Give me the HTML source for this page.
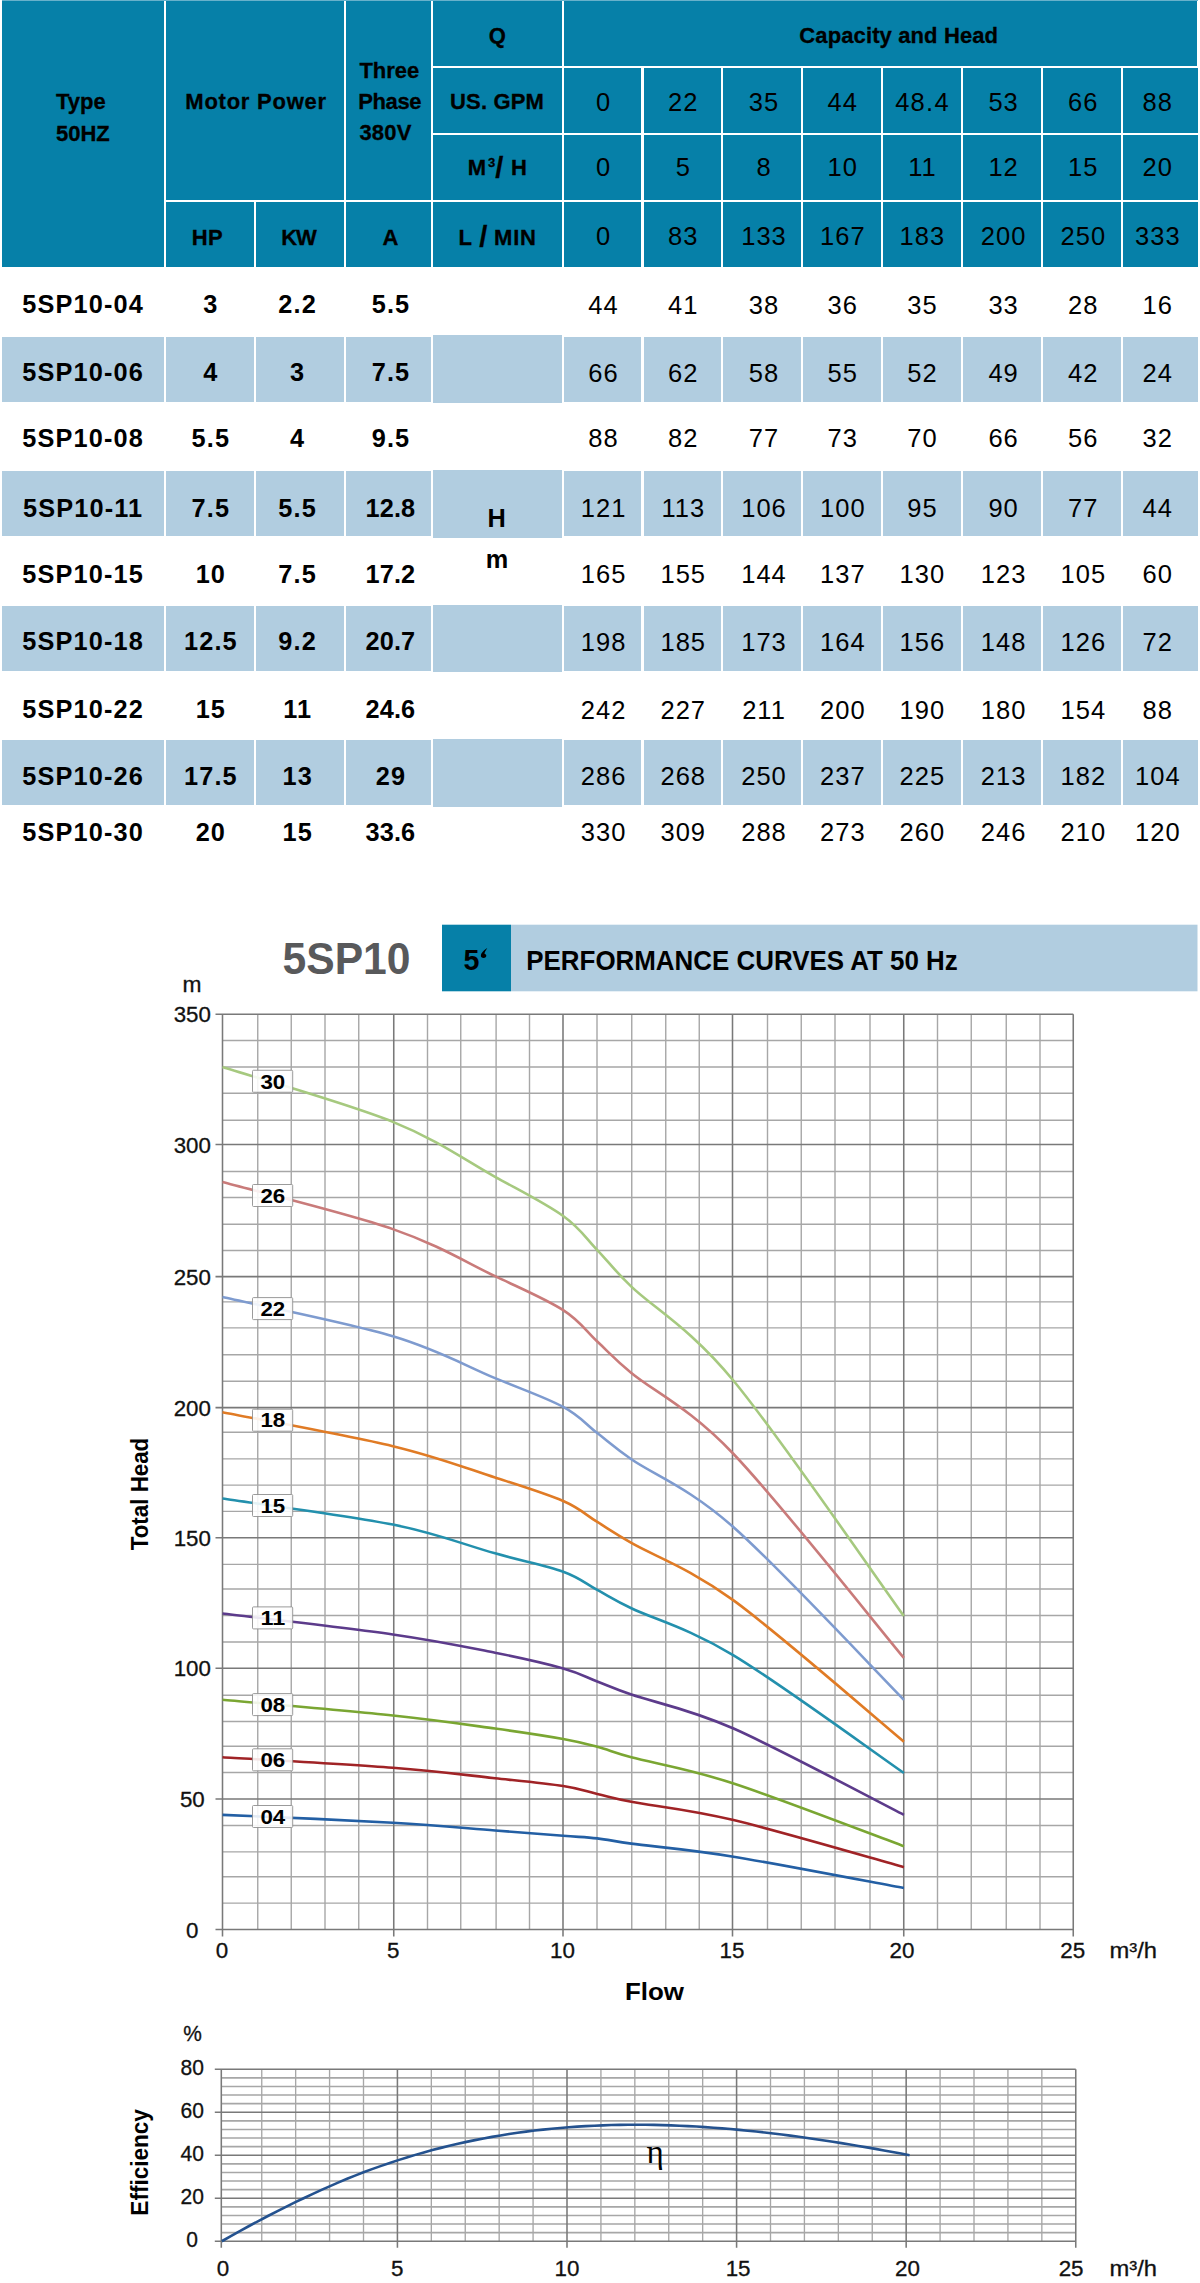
<!DOCTYPE html>
<html><head><meta charset="utf-8"><title>5SP10 performance</title>
<style>
html,body{margin:0;padding:0;background:#fff;}
body{width:1200px;height:2283px;position:relative;overflow:hidden;font-family:"Liberation Sans",sans-serif;color:#000;}
.b{position:absolute;}
.h{background:#0680a8;}
.l{background:#b1cde0;}
.t{position:absolute;width:400px;height:30px;line-height:30px;white-space:nowrap;text-align:center;}
.tl{text-align:left;}
.tr{text-align:right;}
.hb{font-weight:bold;font-size:22px;-webkit-text-stroke:0.3px #000;}
.hn{font-size:25.5px;}
.bb{font-weight:bold;font-size:25.3px;}
.bn{font-size:25.5px;}
svg{position:absolute;left:0;top:0;}
svg text{font-family:"Liberation Sans",sans-serif;}
</style></head><body>

<div class="b h" style="left:2px;top:0px;width:162px;height:267.1px"></div>
<div class="b h" style="left:166px;top:0px;width:178px;height:200.3px"></div>
<div class="b h" style="left:166px;top:202.2px;width:88px;height:64.9px"></div>
<div class="b h" style="left:256px;top:202.2px;width:88px;height:64.9px"></div>
<div class="b h" style="left:346px;top:0px;width:85px;height:200.3px"></div>
<div class="b h" style="left:346px;top:202.2px;width:85px;height:64.9px"></div>
<div class="b h" style="left:433px;top:0px;width:128.6px;height:65.7px"></div>
<div class="b h" style="left:433px;top:67.6px;width:128.6px;height:65.3px"></div>
<div class="b h" style="left:433px;top:134.9px;width:128.6px;height:65.4px"></div>
<div class="b h" style="left:433px;top:202.2px;width:128.6px;height:64.9px"></div>
<div class="b h" style="left:563.7px;top:0px;width:633.8px;height:65.7px"></div>
<div class="b h" style="left:563.7px;top:67.6px;width:77.7px;height:65.3px"></div>
<div class="b h" style="left:643.6px;top:67.6px;width:77.7px;height:65.3px"></div>
<div class="b h" style="left:723.4px;top:67.6px;width:78px;height:65.3px"></div>
<div class="b h" style="left:803.4px;top:67.6px;width:77.6px;height:65.3px"></div>
<div class="b h" style="left:883px;top:67.6px;width:78px;height:65.3px"></div>
<div class="b h" style="left:963px;top:67.6px;width:78px;height:65.3px"></div>
<div class="b h" style="left:1043px;top:67.6px;width:78px;height:65.3px"></div>
<div class="b h" style="left:1123px;top:67.6px;width:74.5px;height:65.3px"></div>
<div class="b h" style="left:563.7px;top:134.9px;width:77.7px;height:65.4px"></div>
<div class="b h" style="left:643.6px;top:134.9px;width:77.7px;height:65.4px"></div>
<div class="b h" style="left:723.4px;top:134.9px;width:78px;height:65.4px"></div>
<div class="b h" style="left:803.4px;top:134.9px;width:77.6px;height:65.4px"></div>
<div class="b h" style="left:883px;top:134.9px;width:78px;height:65.4px"></div>
<div class="b h" style="left:963px;top:134.9px;width:78px;height:65.4px"></div>
<div class="b h" style="left:1043px;top:134.9px;width:78px;height:65.4px"></div>
<div class="b h" style="left:1123px;top:134.9px;width:74.5px;height:65.4px"></div>
<div class="b h" style="left:563.7px;top:202.2px;width:77.7px;height:64.9px"></div>
<div class="b h" style="left:643.6px;top:202.2px;width:77.7px;height:64.9px"></div>
<div class="b h" style="left:723.4px;top:202.2px;width:78px;height:64.9px"></div>
<div class="b h" style="left:803.4px;top:202.2px;width:77.6px;height:64.9px"></div>
<div class="b h" style="left:883px;top:202.2px;width:78px;height:64.9px"></div>
<div class="b h" style="left:963px;top:202.2px;width:78px;height:64.9px"></div>
<div class="b h" style="left:1043px;top:202.2px;width:78px;height:64.9px"></div>
<div class="b h" style="left:1123px;top:202.2px;width:74.5px;height:64.9px"></div>
<div class="b" style="left:2px;top:0;width:1195.5px;height:1px;background:#68b1cb"></div>
<div class="t hb tl" style="top:87.37px;left:56.00px;">Type</div>
<div class="t hb tl" style="top:118.57px;left:56.00px;">50HZ</div>
<div class="t hb" style="top:87.37px;left:56.07px;letter-spacing:0.75px;">Motor Power</div>
<div class="t hb tl" style="top:55.77px;left:359.40px;">Three</div>
<div class="t hb tl" style="top:86.77px;left:358.20px;letter-spacing:-0.35px;">Phase</div>
<div class="t hb tl" style="top:117.97px;left:359.40px;letter-spacing:0.20px;">380V</div>
<div class="t hb" style="top:20.77px;left:297.30px;">Q</div>
<div class="t hb" style="top:87.37px;left:297.07px;letter-spacing:0.15px;">US. GPM</div>
<div class="t hb" style="top:153.27px;left:298.30px;letter-spacing:1.80px;">M<span style="font-size:13px;position:relative;top:-8px;letter-spacing:0">3</span><span style="font-size:29px;position:relative;top:2.5px;letter-spacing:0;line-height:0">/</span> H</div>
<div class="t hb" style="top:222.87px;left:297.57px;letter-spacing:0.75px;">L <span style="font-size:29px;position:relative;top:2.5px;letter-spacing:0;line-height:0">/</span> MIN</div>
<div class="t hb" style="top:222.87px;left:7.30px;letter-spacing:0.20px;">HP</div>
<div class="t hb" style="top:222.87px;left:98.50px;letter-spacing:-1.00px;">KW</div>
<div class="t hb" style="top:222.87px;left:190.50px;">A</div>
<div class="t hb" style="top:20.97px;left:698.76px;letter-spacing:0.12px;">Capacity and Head</div>
<div class="t hn" style="top:86.66px;left:403.55px;letter-spacing:1.00px;">0</div>
<div class="t hn" style="top:86.66px;left:483.25px;letter-spacing:1.00px;">22</div>
<div class="t hn" style="top:86.66px;left:564.00px;letter-spacing:1.00px;">35</div>
<div class="t hn" style="top:86.66px;left:642.80px;letter-spacing:1.00px;">44</div>
<div class="t hn" style="top:86.66px;left:722.55px;letter-spacing:1.30px;">48.4</div>
<div class="t hn" style="top:86.66px;left:803.60px;letter-spacing:1.00px;">53</div>
<div class="t hn" style="top:86.66px;left:883.30px;letter-spacing:1.00px;">66</div>
<div class="t hn" style="top:86.66px;left:957.80px;letter-spacing:1.00px;">88</div>
<div class="t hn" style="top:151.96px;left:403.55px;letter-spacing:1.00px;">0</div>
<div class="t hn" style="top:151.96px;left:483.25px;letter-spacing:1.00px;">5</div>
<div class="t hn" style="top:151.96px;left:564.00px;letter-spacing:1.00px;">8</div>
<div class="t hn" style="top:151.96px;left:642.80px;letter-spacing:1.00px;">10</div>
<div class="t hn" style="top:151.96px;left:722.40px;letter-spacing:1.00px;">11</div>
<div class="t hn" style="top:151.96px;left:803.60px;letter-spacing:1.00px;">12</div>
<div class="t hn" style="top:151.96px;left:883.30px;letter-spacing:1.00px;">15</div>
<div class="t hn" style="top:151.96px;left:957.80px;letter-spacing:1.00px;">20</div>
<div class="t hn" style="top:221.46px;left:403.55px;letter-spacing:1.00px;">0</div>
<div class="t hn" style="top:221.46px;left:483.25px;letter-spacing:1.00px;">83</div>
<div class="t hn" style="top:221.46px;left:564.00px;letter-spacing:1.00px;">133</div>
<div class="t hn" style="top:221.46px;left:642.80px;letter-spacing:1.00px;">167</div>
<div class="t hn" style="top:221.46px;left:722.40px;letter-spacing:1.00px;">183</div>
<div class="t hn" style="top:221.46px;left:803.60px;letter-spacing:1.00px;">200</div>
<div class="t hn" style="top:221.46px;left:883.30px;letter-spacing:1.00px;">250</div>
<div class="t hn" style="top:221.46px;left:957.80px;letter-spacing:1.00px;">333</div>
<div class="b l" style="left:2px;top:336.8px;width:162px;height:64.8px"></div>
<div class="b l" style="left:166px;top:336.8px;width:88px;height:64.8px"></div>
<div class="b l" style="left:256px;top:336.8px;width:88px;height:64.8px"></div>
<div class="b l" style="left:346px;top:336.8px;width:85px;height:64.8px"></div>
<div class="b l" style="left:433px;top:335px;width:128.6px;height:68px"></div>
<div class="b l" style="left:563.7px;top:336.8px;width:77.7px;height:64.8px"></div>
<div class="b l" style="left:643.6px;top:336.8px;width:77.7px;height:64.8px"></div>
<div class="b l" style="left:723.4px;top:336.8px;width:78px;height:64.8px"></div>
<div class="b l" style="left:803.4px;top:336.8px;width:77.6px;height:64.8px"></div>
<div class="b l" style="left:883px;top:336.8px;width:78px;height:64.8px"></div>
<div class="b l" style="left:963px;top:336.8px;width:78px;height:64.8px"></div>
<div class="b l" style="left:1043px;top:336.8px;width:78px;height:64.8px"></div>
<div class="b l" style="left:1123px;top:336.8px;width:74.5px;height:64.8px"></div>
<div class="b l" style="left:2px;top:471px;width:162px;height:65px"></div>
<div class="b l" style="left:166px;top:471px;width:88px;height:65px"></div>
<div class="b l" style="left:256px;top:471px;width:88px;height:65px"></div>
<div class="b l" style="left:346px;top:471px;width:85px;height:65px"></div>
<div class="b l" style="left:433px;top:470px;width:128.6px;height:67.5px"></div>
<div class="b l" style="left:563.7px;top:471px;width:77.7px;height:65px"></div>
<div class="b l" style="left:643.6px;top:471px;width:77.7px;height:65px"></div>
<div class="b l" style="left:723.4px;top:471px;width:78px;height:65px"></div>
<div class="b l" style="left:803.4px;top:471px;width:77.6px;height:65px"></div>
<div class="b l" style="left:883px;top:471px;width:78px;height:65px"></div>
<div class="b l" style="left:963px;top:471px;width:78px;height:65px"></div>
<div class="b l" style="left:1043px;top:471px;width:78px;height:65px"></div>
<div class="b l" style="left:1123px;top:471px;width:74.5px;height:65px"></div>
<div class="b l" style="left:2px;top:606px;width:162px;height:64.5px"></div>
<div class="b l" style="left:166px;top:606px;width:88px;height:64.5px"></div>
<div class="b l" style="left:256px;top:606px;width:88px;height:64.5px"></div>
<div class="b l" style="left:346px;top:606px;width:85px;height:64.5px"></div>
<div class="b l" style="left:433px;top:604.5px;width:128.6px;height:67.25px"></div>
<div class="b l" style="left:563.7px;top:606px;width:77.7px;height:64.5px"></div>
<div class="b l" style="left:643.6px;top:606px;width:77.7px;height:64.5px"></div>
<div class="b l" style="left:723.4px;top:606px;width:78px;height:64.5px"></div>
<div class="b l" style="left:803.4px;top:606px;width:77.6px;height:64.5px"></div>
<div class="b l" style="left:883px;top:606px;width:78px;height:64.5px"></div>
<div class="b l" style="left:963px;top:606px;width:78px;height:64.5px"></div>
<div class="b l" style="left:1043px;top:606px;width:78px;height:64.5px"></div>
<div class="b l" style="left:1123px;top:606px;width:74.5px;height:64.5px"></div>
<div class="b l" style="left:2px;top:740px;width:162px;height:65px"></div>
<div class="b l" style="left:166px;top:740px;width:88px;height:65px"></div>
<div class="b l" style="left:256px;top:740px;width:88px;height:65px"></div>
<div class="b l" style="left:346px;top:740px;width:85px;height:65px"></div>
<div class="b l" style="left:433px;top:739px;width:128.6px;height:67.5px"></div>
<div class="b l" style="left:563.7px;top:740px;width:77.7px;height:65px"></div>
<div class="b l" style="left:643.6px;top:740px;width:77.7px;height:65px"></div>
<div class="b l" style="left:723.4px;top:740px;width:78px;height:65px"></div>
<div class="b l" style="left:803.4px;top:740px;width:77.6px;height:65px"></div>
<div class="b l" style="left:883px;top:740px;width:78px;height:65px"></div>
<div class="b l" style="left:963px;top:740px;width:78px;height:65px"></div>
<div class="b l" style="left:1043px;top:740px;width:78px;height:65px"></div>
<div class="b l" style="left:1123px;top:740px;width:74.5px;height:65px"></div>
<div class="t bb" style="top:289.23px;left:-116.83px;letter-spacing:1.15px;">5SP10-04</div>
<div class="t bb" style="top:289.23px;left:10.88px;letter-spacing:1.15px;">3</div>
<div class="t bb" style="top:289.23px;left:97.68px;letter-spacing:1.15px;">2.2</div>
<div class="t bb" style="top:289.23px;left:190.97px;letter-spacing:1.15px;">5.5</div>
<div class="t bn" style="top:289.66px;left:403.55px;letter-spacing:1.00px;">44</div>
<div class="t bn" style="top:289.66px;left:483.25px;letter-spacing:1.00px;">41</div>
<div class="t bn" style="top:289.66px;left:564.00px;letter-spacing:1.00px;">38</div>
<div class="t bn" style="top:289.66px;left:642.80px;letter-spacing:1.00px;">36</div>
<div class="t bn" style="top:289.66px;left:722.40px;letter-spacing:1.00px;">35</div>
<div class="t bn" style="top:289.66px;left:803.60px;letter-spacing:1.00px;">33</div>
<div class="t bn" style="top:289.66px;left:883.30px;letter-spacing:1.00px;">28</div>
<div class="t bn" style="top:289.66px;left:957.80px;letter-spacing:1.00px;">16</div>
<div class="t bb" style="top:357.23px;left:-116.83px;letter-spacing:1.15px;">5SP10-06</div>
<div class="t bb" style="top:357.23px;left:10.88px;letter-spacing:1.15px;">4</div>
<div class="t bb" style="top:357.23px;left:97.68px;letter-spacing:1.15px;">3</div>
<div class="t bb" style="top:357.23px;left:190.97px;letter-spacing:1.15px;">7.5</div>
<div class="t bn" style="top:357.66px;left:403.55px;letter-spacing:1.00px;">66</div>
<div class="t bn" style="top:357.66px;left:483.25px;letter-spacing:1.00px;">62</div>
<div class="t bn" style="top:357.66px;left:564.00px;letter-spacing:1.00px;">58</div>
<div class="t bn" style="top:357.66px;left:642.80px;letter-spacing:1.00px;">55</div>
<div class="t bn" style="top:357.66px;left:722.40px;letter-spacing:1.00px;">52</div>
<div class="t bn" style="top:357.66px;left:803.60px;letter-spacing:1.00px;">49</div>
<div class="t bn" style="top:357.66px;left:883.30px;letter-spacing:1.00px;">42</div>
<div class="t bn" style="top:357.66px;left:957.80px;letter-spacing:1.00px;">24</div>
<div class="t bb" style="top:423.03px;left:-116.83px;letter-spacing:1.15px;">5SP10-08</div>
<div class="t bb" style="top:423.03px;left:10.88px;letter-spacing:1.15px;">5.5</div>
<div class="t bb" style="top:423.03px;left:97.68px;letter-spacing:1.15px;">4</div>
<div class="t bb" style="top:423.03px;left:190.97px;letter-spacing:1.15px;">9.5</div>
<div class="t bn" style="top:423.46px;left:403.55px;letter-spacing:1.00px;">88</div>
<div class="t bn" style="top:423.46px;left:483.25px;letter-spacing:1.00px;">82</div>
<div class="t bn" style="top:423.46px;left:564.00px;letter-spacing:1.00px;">77</div>
<div class="t bn" style="top:423.46px;left:642.80px;letter-spacing:1.00px;">73</div>
<div class="t bn" style="top:423.46px;left:722.40px;letter-spacing:1.00px;">70</div>
<div class="t bn" style="top:423.46px;left:803.60px;letter-spacing:1.00px;">66</div>
<div class="t bn" style="top:423.46px;left:883.30px;letter-spacing:1.00px;">56</div>
<div class="t bn" style="top:423.46px;left:957.80px;letter-spacing:1.00px;">32</div>
<div class="t bb" style="top:492.63px;left:-116.83px;letter-spacing:1.15px;">5SP10-11</div>
<div class="t bb" style="top:492.63px;left:10.88px;letter-spacing:1.15px;">7.5</div>
<div class="t bb" style="top:492.63px;left:97.68px;letter-spacing:1.15px;">5.5</div>
<div class="t bb" style="top:492.63px;left:190.45px;letter-spacing:0.10px;">12.8</div>
<div class="t bn" style="top:493.06px;left:403.55px;letter-spacing:1.00px;">121</div>
<div class="t bn" style="top:493.06px;left:483.25px;letter-spacing:1.00px;">113</div>
<div class="t bn" style="top:493.06px;left:564.00px;letter-spacing:1.00px;">106</div>
<div class="t bn" style="top:493.06px;left:642.80px;letter-spacing:1.00px;">100</div>
<div class="t bn" style="top:493.06px;left:722.40px;letter-spacing:1.00px;">95</div>
<div class="t bn" style="top:493.06px;left:803.60px;letter-spacing:1.00px;">90</div>
<div class="t bn" style="top:493.06px;left:883.30px;letter-spacing:1.00px;">77</div>
<div class="t bn" style="top:493.06px;left:957.80px;letter-spacing:1.00px;">44</div>
<div class="t bb" style="top:558.53px;left:-116.83px;letter-spacing:1.15px;">5SP10-15</div>
<div class="t bb" style="top:558.53px;left:10.88px;letter-spacing:1.15px;">10</div>
<div class="t bb" style="top:558.53px;left:97.68px;letter-spacing:1.15px;">7.5</div>
<div class="t bb" style="top:558.53px;left:190.45px;letter-spacing:0.10px;">17.2</div>
<div class="t bn" style="top:558.96px;left:403.55px;letter-spacing:1.00px;">165</div>
<div class="t bn" style="top:558.96px;left:483.25px;letter-spacing:1.00px;">155</div>
<div class="t bn" style="top:558.96px;left:564.00px;letter-spacing:1.00px;">144</div>
<div class="t bn" style="top:558.96px;left:642.80px;letter-spacing:1.00px;">137</div>
<div class="t bn" style="top:558.96px;left:722.40px;letter-spacing:1.00px;">130</div>
<div class="t bn" style="top:558.96px;left:803.60px;letter-spacing:1.00px;">123</div>
<div class="t bn" style="top:558.96px;left:883.30px;letter-spacing:1.00px;">105</div>
<div class="t bn" style="top:558.96px;left:957.80px;letter-spacing:1.00px;">60</div>
<div class="t bb" style="top:626.13px;left:-116.83px;letter-spacing:1.15px;">5SP10-18</div>
<div class="t bb" style="top:626.13px;left:10.88px;letter-spacing:1.15px;">12.5</div>
<div class="t bb" style="top:626.13px;left:97.68px;letter-spacing:1.15px;">9.2</div>
<div class="t bb" style="top:626.13px;left:190.45px;letter-spacing:0.10px;">20.7</div>
<div class="t bn" style="top:626.56px;left:403.55px;letter-spacing:1.00px;">198</div>
<div class="t bn" style="top:626.56px;left:483.25px;letter-spacing:1.00px;">185</div>
<div class="t bn" style="top:626.56px;left:564.00px;letter-spacing:1.00px;">173</div>
<div class="t bn" style="top:626.56px;left:642.80px;letter-spacing:1.00px;">164</div>
<div class="t bn" style="top:626.56px;left:722.40px;letter-spacing:1.00px;">156</div>
<div class="t bn" style="top:626.56px;left:803.60px;letter-spacing:1.00px;">148</div>
<div class="t bn" style="top:626.56px;left:883.30px;letter-spacing:1.00px;">126</div>
<div class="t bn" style="top:626.56px;left:957.80px;letter-spacing:1.00px;">72</div>
<div class="t bb" style="top:694.23px;left:-116.83px;letter-spacing:1.15px;">5SP10-22</div>
<div class="t bb" style="top:694.23px;left:10.88px;letter-spacing:1.15px;">15</div>
<div class="t bb" style="top:694.23px;left:97.68px;letter-spacing:1.15px;">11</div>
<div class="t bb" style="top:694.23px;left:190.45px;letter-spacing:0.10px;">24.6</div>
<div class="t bn" style="top:694.66px;left:403.55px;letter-spacing:1.00px;">242</div>
<div class="t bn" style="top:694.66px;left:483.25px;letter-spacing:1.00px;">227</div>
<div class="t bn" style="top:694.66px;left:564.00px;letter-spacing:1.00px;">211</div>
<div class="t bn" style="top:694.66px;left:642.80px;letter-spacing:1.00px;">200</div>
<div class="t bn" style="top:694.66px;left:722.40px;letter-spacing:1.00px;">190</div>
<div class="t bn" style="top:694.66px;left:803.60px;letter-spacing:1.00px;">180</div>
<div class="t bn" style="top:694.66px;left:883.30px;letter-spacing:1.00px;">154</div>
<div class="t bn" style="top:694.66px;left:957.80px;letter-spacing:1.00px;">88</div>
<div class="t bb" style="top:761.03px;left:-116.83px;letter-spacing:1.15px;">5SP10-26</div>
<div class="t bb" style="top:761.03px;left:10.88px;letter-spacing:1.15px;">17.5</div>
<div class="t bb" style="top:761.03px;left:97.68px;letter-spacing:1.15px;">13</div>
<div class="t bb" style="top:761.03px;left:190.97px;letter-spacing:1.15px;">29</div>
<div class="t bn" style="top:761.46px;left:403.55px;letter-spacing:1.00px;">286</div>
<div class="t bn" style="top:761.46px;left:483.25px;letter-spacing:1.00px;">268</div>
<div class="t bn" style="top:761.46px;left:564.00px;letter-spacing:1.00px;">250</div>
<div class="t bn" style="top:761.46px;left:642.80px;letter-spacing:1.00px;">237</div>
<div class="t bn" style="top:761.46px;left:722.40px;letter-spacing:1.00px;">225</div>
<div class="t bn" style="top:761.46px;left:803.60px;letter-spacing:1.00px;">213</div>
<div class="t bn" style="top:761.46px;left:883.30px;letter-spacing:1.00px;">182</div>
<div class="t bn" style="top:761.46px;left:957.80px;letter-spacing:1.00px;">104</div>
<div class="t bb" style="top:816.73px;left:-116.83px;letter-spacing:1.15px;">5SP10-30</div>
<div class="t bb" style="top:816.73px;left:10.88px;letter-spacing:1.15px;">20</div>
<div class="t bb" style="top:816.73px;left:97.68px;letter-spacing:1.15px;">15</div>
<div class="t bb" style="top:816.73px;left:190.45px;letter-spacing:0.10px;">33.6</div>
<div class="t bn" style="top:817.16px;left:403.55px;letter-spacing:1.00px;">330</div>
<div class="t bn" style="top:817.16px;left:483.25px;letter-spacing:1.00px;">309</div>
<div class="t bn" style="top:817.16px;left:564.00px;letter-spacing:1.00px;">288</div>
<div class="t bn" style="top:817.16px;left:642.80px;letter-spacing:1.00px;">273</div>
<div class="t bn" style="top:817.16px;left:722.40px;letter-spacing:1.00px;">260</div>
<div class="t bn" style="top:817.16px;left:803.60px;letter-spacing:1.00px;">246</div>
<div class="t bn" style="top:817.16px;left:883.30px;letter-spacing:1.00px;">210</div>
<div class="t bn" style="top:817.16px;left:957.80px;letter-spacing:1.00px;">120</div>
<div class="t bb" style="top:502.64px;left:296.60px;">H</div>
<div class="t bb" style="top:543.64px;left:297.00px;">m</div>
<svg width="1200" height="2283" viewBox="0 0 1200 2283">
<rect x="442" y="924.7" width="69" height="66.6" fill="#0680a8"/>
<rect x="511" y="924.7" width="686.5" height="66.6" fill="#b1cde0"/>
<text x="282.5" y="974.3" font-size="44.5" font-weight="bold" fill="#58595b" textLength="128" lengthAdjust="spacingAndGlyphs">5SP10</text>
<text x="463.6" y="970.3" font-size="28.6" font-weight="bold" fill="#000">5</text>
<path d="M487.3 948.1C485.2 949.3 481.4 952.2 480.9 955.3C480.6 957.1 481.9 958 483.6 958C485.4 958 486.4 956.9 486.3 955.5C486.2 954 484.9 953.9 484.5 953.7C484.7 952 486 950 487.3 948.1Z" fill="#000"/>
<text x="526.3" y="970.2" font-size="28" font-weight="bold" fill="#000" textLength="431.5" lengthAdjust="spacingAndGlyphs">PERFORMANCE CURVES AT 50 Hz</text>
<g fill="none" stroke="#a7a7a7" stroke-width="1.4">
<path d="M257.75 1014.20V1929.40M291.25 1014.20V1929.40M325.00 1014.20V1929.40M358.75 1014.20V1929.40M427.50 1014.20V1929.40M460.75 1014.20V1929.40M496.10 1014.20V1929.40M529.50 1014.20V1929.40M597.00 1014.20V1929.40M631.75 1014.20V1929.40M665.75 1014.20V1929.40M699.25 1014.20V1929.40M767.50 1014.20V1929.40M801.25 1014.20V1929.40M835.00 1014.20V1929.40M870.00 1014.20V1929.40M937.50 1014.20V1929.40M971.25 1014.20V1929.40M1006.25 1014.20V1929.40M1040.00 1014.20V1929.40M222.50 1903.10H1073.25M222.50 1876.80H1073.25M222.50 1851.90H1073.25M222.50 1825.50H1073.25M222.50 1772.50H1073.25M222.50 1746.20H1073.25M222.50 1721.50H1073.25M222.50 1695.20H1073.25M222.50 1642.00H1073.25M222.50 1615.50H1073.25M222.50 1589.00H1073.25M222.50 1564.40H1073.25M222.50 1511.40H1073.25M222.50 1485.10H1073.25M222.50 1458.90H1073.25M222.50 1432.30H1073.25M222.50 1381.30H1073.25M222.50 1354.80H1073.25M222.50 1327.90H1073.25M222.50 1301.90H1073.25M222.50 1250.50H1073.25M222.50 1224.20H1073.25M222.50 1197.50H1073.25M222.50 1171.50H1073.25M222.50 1120.20H1073.25M222.50 1093.30H1073.25M222.50 1067.00H1073.25M222.50 1040.50H1073.25"/>
</g>
<g fill="none" stroke="#797979" stroke-width="1.55">
<path d="M222.50 1014.20V1936.40M393.75 1014.20V1936.40M563.00 1014.20V1936.40M732.50 1014.20V1936.40M903.75 1014.20V1936.40M1073.25 1014.20V1936.40M215.50 1929.40H1073.25M215.50 1799.00H1073.25M215.50 1668.30H1073.25M215.50 1537.70H1073.25M215.50 1407.60H1073.25M215.50 1276.60H1073.25M215.50 1144.40H1073.25M215.50 1014.20H1073.25"/>
</g>
<path d="M222.50 1814.84C250.89 1816.15 347.42 1820.07 392.85 1822.69C438.28 1825.30 466.67 1828.35 495.06 1830.53C523.45 1832.71 546.17 1834.46 563.20 1835.76C580.24 1837.07 585.91 1837.07 597.27 1838.38C608.63 1839.69 614.26 1841.31 631.34 1843.61C654.05 1846.66 688.12 1849.27 733.55 1856.68C778.98 1864.09 875.51 1882.83 903.90 1888.06" fill="none" stroke="#235fa4" stroke-width="2.6" stroke-linecap="butt"/>
<path d="M222.50 1757.32C250.89 1759.06 347.42 1764.29 392.85 1767.78C438.28 1771.26 466.67 1775.19 495.06 1778.24C523.45 1781.29 546.17 1783.47 563.20 1786.08C580.24 1788.70 585.91 1791.31 597.27 1793.93C608.63 1796.54 614.17 1798.48 631.34 1801.77C654.05 1806.13 688.12 1809.18 733.55 1820.07C778.98 1830.97 875.51 1859.30 903.90 1867.14" fill="none" stroke="#a02326" stroke-width="2.6" stroke-linecap="butt"/>
<path d="M222.50 1699.79C250.89 1702.40 347.42 1710.68 392.85 1715.48C438.28 1720.27 466.67 1724.63 495.06 1728.55C523.45 1732.48 546.17 1735.96 563.20 1739.01C580.24 1742.06 585.91 1743.81 597.27 1746.86C608.63 1749.91 614.13 1752.69 631.34 1757.32C654.05 1763.42 688.12 1768.65 733.55 1783.47C778.98 1798.28 875.51 1835.76 903.90 1846.22" fill="none" stroke="#7aa632" stroke-width="2.6" stroke-linecap="butt"/>
<path d="M222.50 1613.50C250.89 1616.98 347.42 1627.88 392.85 1634.42C438.28 1640.95 466.67 1647.05 495.06 1652.72C523.45 1658.39 546.17 1663.62 563.20 1668.41C580.24 1673.20 585.91 1677.13 597.27 1681.48C608.63 1685.84 614.09 1688.60 631.34 1694.56C654.05 1702.40 688.12 1708.51 733.55 1728.55C778.98 1748.60 875.51 1800.46 903.90 1814.84" fill="none" stroke="#5c3b8b" stroke-width="2.6" stroke-linecap="butt"/>
<path d="M222.50 1498.44C250.89 1502.80 347.42 1515.44 392.85 1524.59C438.28 1533.74 466.67 1545.51 495.06 1553.35C523.45 1561.20 546.17 1565.56 563.20 1571.66C580.24 1577.76 585.91 1583.86 597.27 1589.96C608.63 1596.06 613.90 1599.90 631.34 1608.27C654.05 1619.16 688.12 1627.88 733.55 1655.34C778.98 1682.79 875.51 1753.39 903.90 1773.01" fill="none" stroke="#2390ad" stroke-width="2.6" stroke-linecap="butt"/>
<path d="M222.50 1412.15C250.89 1417.82 347.42 1435.25 392.85 1446.14C438.28 1457.04 466.67 1468.37 495.06 1477.52C523.45 1486.67 546.17 1493.65 563.20 1501.06C580.24 1508.47 585.91 1515.00 597.27 1521.98C608.63 1528.95 614.02 1532.92 631.34 1542.89C654.05 1555.97 688.12 1567.30 733.55 1600.42C778.98 1633.54 875.51 1718.09 903.90 1741.63" fill="none" stroke="#e07b25" stroke-width="2.6" stroke-linecap="butt"/>
<path d="M222.50 1297.09C250.89 1303.63 347.42 1322.81 392.85 1336.32C438.28 1349.83 466.67 1366.39 495.06 1378.16C523.45 1389.92 546.17 1397.77 563.20 1406.92C580.24 1416.07 585.91 1424.35 597.27 1433.07C608.63 1441.79 613.67 1447.01 631.34 1459.22C654.05 1474.91 688.12 1487.11 733.55 1527.21C778.98 1567.30 875.51 1671.02 903.90 1699.79" fill="none" stroke="#7e9bcf" stroke-width="2.6" stroke-linecap="butt"/>
<path d="M222.50 1182.04C250.89 1189.88 347.42 1213.42 392.85 1229.11C438.28 1244.80 466.67 1262.66 495.06 1276.18C523.45 1289.69 546.17 1299.27 563.20 1310.17C580.24 1321.06 585.91 1331.09 597.27 1341.55C608.63 1352.01 613.48 1358.19 631.34 1372.93C654.05 1391.67 688.47 1406.85 733.55 1453.99C778.98 1501.49 875.51 1623.96 903.90 1657.95" fill="none" stroke="#c97b7a" stroke-width="2.6" stroke-linecap="butt"/>
<path d="M222.50 1066.98C250.89 1076.14 347.42 1103.59 392.85 1121.90C438.28 1140.20 466.67 1161.12 495.06 1176.81C523.45 1192.50 546.17 1203.83 563.20 1216.03C580.24 1228.24 585.91 1238.26 597.27 1250.03C608.63 1261.79 613.30 1269.32 631.34 1286.63C654.05 1308.43 689.26 1327.24 733.55 1380.77C778.98 1435.68 875.51 1576.89 903.90 1616.11" fill="none" stroke="#a6c97f" stroke-width="2.6" stroke-linecap="butt"/>
<rect x="252.5" y="1805.50" width="40.2" height="22" rx="1" fill="#fff" fill-opacity="0.88" stroke="#909090" stroke-width="0.9"/>
<text x="272.8" y="1823.75" font-size="20" font-weight="bold" text-anchor="middle" textLength="24.8" lengthAdjust="spacingAndGlyphs">04</text>
<rect x="252.5" y="1748.80" width="40.2" height="22" rx="1" fill="#fff" fill-opacity="0.88" stroke="#909090" stroke-width="0.9"/>
<text x="272.8" y="1767.05" font-size="20" font-weight="bold" text-anchor="middle" textLength="24.8" lengthAdjust="spacingAndGlyphs">06</text>
<rect x="252.5" y="1693.60" width="40.2" height="22" rx="1" fill="#fff" fill-opacity="0.88" stroke="#909090" stroke-width="0.9"/>
<text x="272.8" y="1711.85" font-size="20" font-weight="bold" text-anchor="middle" textLength="24.8" lengthAdjust="spacingAndGlyphs">08</text>
<rect x="252.5" y="1606.90" width="40.2" height="22" rx="1" fill="#fff" fill-opacity="0.88" stroke="#909090" stroke-width="0.9"/>
<text x="272.8" y="1625.15" font-size="20" font-weight="bold" text-anchor="middle" textLength="24.8" lengthAdjust="spacingAndGlyphs">11</text>
<rect x="252.5" y="1494.50" width="40.2" height="22" rx="1" fill="#fff" fill-opacity="0.88" stroke="#909090" stroke-width="0.9"/>
<text x="272.8" y="1512.75" font-size="20" font-weight="bold" text-anchor="middle" textLength="24.8" lengthAdjust="spacingAndGlyphs">15</text>
<rect x="252.5" y="1409.20" width="40.2" height="22" rx="1" fill="#fff" fill-opacity="0.88" stroke="#909090" stroke-width="0.9"/>
<text x="272.8" y="1427.45" font-size="20" font-weight="bold" text-anchor="middle" textLength="24.8" lengthAdjust="spacingAndGlyphs">18</text>
<rect x="252.5" y="1297.60" width="40.2" height="22" rx="1" fill="#fff" fill-opacity="0.88" stroke="#909090" stroke-width="0.9"/>
<text x="272.8" y="1315.85" font-size="20" font-weight="bold" text-anchor="middle" textLength="24.8" lengthAdjust="spacingAndGlyphs">22</text>
<rect x="252.5" y="1184.50" width="40.2" height="22" rx="1" fill="#fff" fill-opacity="0.88" stroke="#909090" stroke-width="0.9"/>
<text x="272.8" y="1202.75" font-size="20" font-weight="bold" text-anchor="middle" textLength="24.8" lengthAdjust="spacingAndGlyphs">26</text>
<rect x="252.5" y="1070.25" width="40.2" height="22" rx="1" fill="#fff" fill-opacity="0.88" stroke="#909090" stroke-width="0.9"/>
<text x="272.8" y="1088.50" font-size="20" font-weight="bold" text-anchor="middle" textLength="24.8" lengthAdjust="spacingAndGlyphs">30</text>
<g font-size="21.6" fill="#111" stroke="#111" stroke-width="0.3">
<text x="192.30" y="1937.50" text-anchor="middle" textLength="12.40" lengthAdjust="spacingAndGlyphs">0</text>
<text x="192.30" y="1807.10" text-anchor="middle" textLength="24.80" lengthAdjust="spacingAndGlyphs">50</text>
<text x="192.30" y="1676.40" text-anchor="middle" textLength="37.20" lengthAdjust="spacingAndGlyphs">100</text>
<text x="192.30" y="1545.80" text-anchor="middle" textLength="37.20" lengthAdjust="spacingAndGlyphs">150</text>
<text x="192.30" y="1415.70" text-anchor="middle" textLength="37.20" lengthAdjust="spacingAndGlyphs">200</text>
<text x="192.30" y="1284.70" text-anchor="middle" textLength="37.20" lengthAdjust="spacingAndGlyphs">250</text>
<text x="192.30" y="1152.50" text-anchor="middle" textLength="37.20" lengthAdjust="spacingAndGlyphs">300</text>
<text x="192.30" y="1022.30" text-anchor="middle" textLength="37.20" lengthAdjust="spacingAndGlyphs">350</text>
<text x="222.00" y="1957.80" text-anchor="middle" textLength="12.45" lengthAdjust="spacingAndGlyphs">0</text>
<text x="393.25" y="1957.80" text-anchor="middle" textLength="12.45" lengthAdjust="spacingAndGlyphs">5</text>
<text x="562.50" y="1957.80" text-anchor="middle" textLength="24.90" lengthAdjust="spacingAndGlyphs">10</text>
<text x="732.00" y="1957.80" text-anchor="middle" textLength="24.90" lengthAdjust="spacingAndGlyphs">15</text>
<text x="901.95" y="1957.80" text-anchor="middle" textLength="24.90" lengthAdjust="spacingAndGlyphs">20</text>
<text x="1072.75" y="1957.80" text-anchor="middle" textLength="24.90" lengthAdjust="spacingAndGlyphs">25</text>
<text x="1109.5" y="1957.8" textLength="47.5" lengthAdjust="spacingAndGlyphs">m³/h</text>
<text x="182.6" y="992.4" textLength="19" lengthAdjust="spacingAndGlyphs">m</text>
</g>
<text transform="translate(148,1494) rotate(-90)" font-size="24.4" font-weight="bold" text-anchor="middle" textLength="112.5" lengthAdjust="spacingAndGlyphs">Total Head</text>
<text x="625" y="1999.5" font-size="23" font-weight="bold" textLength="59" lengthAdjust="spacingAndGlyphs">Flow</text>
<g fill="none" stroke="#a7a7a7" stroke-width="1.6">
<path d="M261.75 2069.25V2241.25M295.66 2069.25V2241.25M329.58 2069.25V2241.25M363.50 2069.25V2241.25M431.33 2069.25V2241.25M465.25 2069.25V2241.25M499.17 2069.25V2241.25M533.08 2069.25V2241.25M600.92 2069.25V2241.25M634.83 2069.25V2241.25M668.75 2069.25V2241.25M702.67 2069.25V2241.25M770.50 2069.25V2241.25M804.42 2069.25V2241.25M838.34 2069.25V2241.25M872.25 2069.25V2241.25M940.09 2069.25V2241.25M974.00 2069.25V2241.25M1007.92 2069.25V2241.25M1041.84 2069.25V2241.25" stroke-width="1.35"/>
<path d="M221.30 2232.65H1075.76M221.30 2224.05H1075.76M221.30 2215.45H1075.76M221.30 2206.85H1075.76M221.30 2189.65H1075.76M221.30 2181.05H1075.76M221.30 2172.45H1075.76M221.30 2163.85H1075.76M221.30 2146.65H1075.76M221.30 2138.05H1075.76M221.30 2129.45H1075.76M221.30 2120.85H1075.76M221.30 2103.65H1075.76M221.30 2095.05H1075.76M221.30 2086.45H1075.76M221.30 2077.85H1075.76"/>
</g>
<g fill="none" stroke="#797979" stroke-width="1.55">
<path d="M221.30 2069.25V2247.75M397.42 2069.25V2247.75M567.00 2069.25V2247.75M736.59 2069.25V2247.75M906.17 2069.25V2247.75M1075.76 2069.25V2247.75M214.80 2241.25H1075.76M214.80 2198.25H1075.76M214.80 2155.25H1075.76M214.80 2112.25H1075.76M214.80 2069.25H1075.76"/>
</g>
<path d="M221.80 2241.25L231.29 2235.85L240.69 2230.60L250.01 2225.50L259.25 2220.55L268.40 2215.75L277.47 2211.09L286.45 2206.57L295.35 2202.19L304.16 2197.96L312.89 2193.86L321.53 2189.90L330.09 2186.07L338.61 2182.38L347.13 2178.81L355.65 2175.38L364.18 2172.08L372.70 2168.90L381.22 2165.85L389.74 2162.93L398.26 2160.12L406.78 2157.44L415.31 2154.87L423.83 2152.43L432.35 2150.09L440.87 2147.88L449.39 2145.77L457.91 2143.78L466.44 2141.89L474.96 2140.12L483.48 2138.45L492.00 2136.88L500.52 2135.42L509.04 2134.06L517.57 2132.80L526.09 2131.63L534.61 2130.57L543.13 2129.60L551.65 2128.72L560.17 2127.93L568.70 2127.24L577.22 2126.63L585.74 2126.11L594.26 2125.68L602.78 2125.33L611.30 2125.06L619.83 2124.87L628.35 2124.76L636.87 2124.73L645.39 2124.78L653.91 2124.90L662.43 2125.09L670.96 2125.36L679.48 2125.69L688.00 2126.09L696.52 2126.56L705.04 2127.09L713.56 2127.69L722.09 2128.34L730.61 2129.06L739.13 2129.84L747.65 2130.67L756.17 2131.56L764.69 2132.50L773.22 2133.49L781.74 2134.53L790.26 2135.63L798.78 2136.77L807.30 2137.95L815.82 2139.18L824.35 2140.45L832.87 2141.77L841.39 2143.12L849.91 2144.51L858.43 2145.93L866.95 2147.40L875.48 2148.89L884.00 2150.41L892.52 2151.97L901.04 2153.55L909.56 2155.16" fill="none" stroke="#24528f" stroke-width="2.6" stroke-linejoin="round"/>
<text x="646.5" y="2163" font-size="33" font-family="Liberation Serif" style="font-family:'Liberation Serif',serif">η</text>
<g font-size="21.7" fill="#111" stroke="#111" stroke-width="0.3">
<text x="192.20" y="2246.65" text-anchor="middle" textLength="11.70" lengthAdjust="spacingAndGlyphs">0</text>
<text x="192.20" y="2203.65" text-anchor="middle" textLength="23.40" lengthAdjust="spacingAndGlyphs">20</text>
<text x="192.20" y="2160.65" text-anchor="middle" textLength="23.40" lengthAdjust="spacingAndGlyphs">40</text>
<text x="192.20" y="2117.65" text-anchor="middle" textLength="23.40" lengthAdjust="spacingAndGlyphs">60</text>
<text x="192.20" y="2074.65" text-anchor="middle" textLength="23.40" lengthAdjust="spacingAndGlyphs">80</text>
<text x="223.00" y="2276.00" text-anchor="middle" textLength="12.45" lengthAdjust="spacingAndGlyphs">0</text>
<text x="397.25" y="2276.00" text-anchor="middle" textLength="12.45" lengthAdjust="spacingAndGlyphs">5</text>
<text x="567.00" y="2276.00" text-anchor="middle" textLength="24.90" lengthAdjust="spacingAndGlyphs">10</text>
<text x="738.10" y="2276.00" text-anchor="middle" textLength="24.90" lengthAdjust="spacingAndGlyphs">15</text>
<text x="907.50" y="2276.00" text-anchor="middle" textLength="24.90" lengthAdjust="spacingAndGlyphs">20</text>
<text x="1071.10" y="2276.00" text-anchor="middle" textLength="24.90" lengthAdjust="spacingAndGlyphs">25</text>
<text x="1109.5" y="2276" textLength="47.5" lengthAdjust="spacingAndGlyphs">m³/h</text>
<text x="183.2" y="2041.2" textLength="18.6" lengthAdjust="spacingAndGlyphs">%</text>
</g>
<text transform="translate(147.8,2162.4) rotate(-90)" font-size="24.5" font-weight="bold" text-anchor="middle" textLength="106.5" lengthAdjust="spacingAndGlyphs">Efficiency</text>
</svg>
</body></html>
